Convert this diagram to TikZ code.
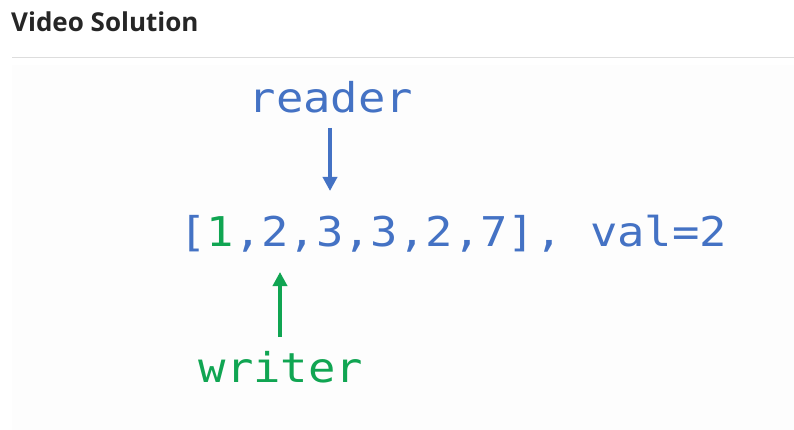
\documentclass[tikz,border=0pt]{standalone}
\usepackage{fontspec}
\usetikzlibrary{arrows.meta}
\newfontfamily\monofont[FakeStretch=1.11]{DejaVu Sans Mono}
\newfontfamily\headfont{Open Sans}
\definecolor{myblue}{HTML}{4472C4}
\definecolor{mygreen}{HTML}{10A552}
\definecolor{headgray}{HTML}{262626}
\definecolor{rulegray}{HTML}{DDDDDD}
\definecolor{panel}{HTML}{FDFDFD}
\tikzset{
  codetext/.style={inner sep=0pt, anchor=base, font=\monofont\fontsize{41}{48}\selectfont},
  ptr/.style={line width=4pt, -{Triangle[width=14pt,length=14pt]}},
}
\begin{document}
\begin{tikzpicture}[x=1pt,y=-1pt]
\useasboundingbox (0,0) rectangle (794,430);
\fill[white] (0,0) rectangle (794,430);
\fill[panel] (12,65) rectangle (794,430);
\draw[rulegray, line width=1pt] (12,57.5) -- (794,57.5);
\node[inner sep=0pt, anchor=base west, text=headgray, font=\headfont\bfseries\fontsize{26}{30}\selectfont] (title) at (11,32) {Video Solution};
\node[codetext, anchor=base west, text=myblue] (arr) at (179,246) {[\textcolor{mygreen}{1},2,3,3,2,7], val=2};
\node[codetext, text=myblue] (reader) at (331,113) {reader};
\node[codetext, text=mygreen] (writer) at (281,382) {writer};
\coordinate (rtop) at (330,128);
\coordinate (rtip) at (330,191);
\coordinate (wbot) at (280,337);
\coordinate (wtip) at (280,272);
\draw[ptr, myblue] (rtop) -- (rtip);
\draw[ptr, mygreen] (wbot) -- (wtip);
\end{tikzpicture}
\end{document}
